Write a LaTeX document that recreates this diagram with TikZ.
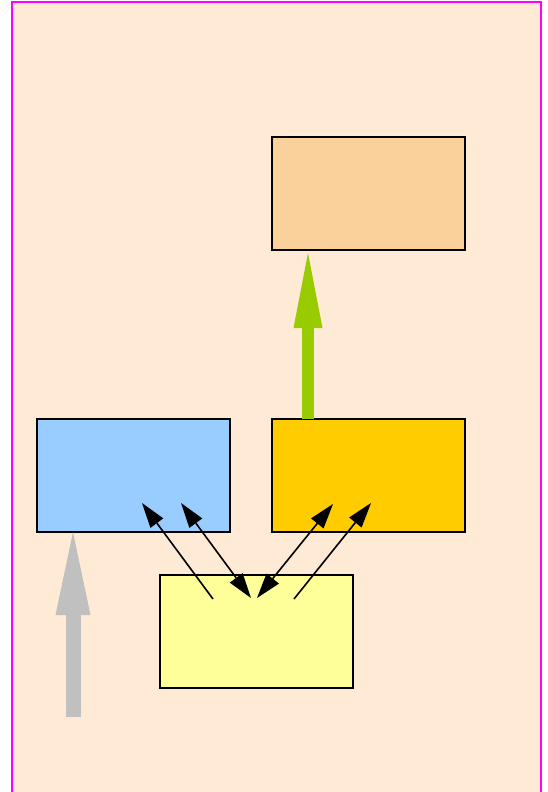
\documentclass[tikz,border=0pt]{standalone}
\usetikzlibrary{arrows.meta}
\definecolor{bgc}{HTML}{FFEAD6}
\definecolor{framec}{HTML}{FF00FF}
\definecolor{orangebox}{HTML}{FAD19A}
\definecolor{bluebox}{HTML}{99CCFF}
\definecolor{goldbox}{HTML}{FFCC00}
\definecolor{yellowbox}{HTML}{FFFF99}
\definecolor{grayarr}{HTML}{C0C0C0}
\definecolor{greenarr}{HTML}{99CC00}
\begin{document}
\begin{tikzpicture}[x=1pt,y=1pt,
  box/.style={draw=black,line width=1.4pt,minimum width=193pt,minimum height=113pt,inner sep=0pt,outer sep=0pt},
  blk/.style={line width=1.6pt,black},
  bt/.style={}]
\useasboundingbox (0,0) rectangle (547,-792);
\fill[bgc] (12,-2) rectangle (541,-800);
\draw[framec,line width=1.8pt] (12,-800) -- (12,-2) -- (541,-2) -- (541,-800);
\node[box,fill=orangebox] (top) at (368.5,-193.5) {};
\node[box,fill=bluebox] (blue) at (133.5,-475.5) {};
\node[box,fill=goldbox] (gold) at (368.5,-475.5) {};
\node[box,fill=yellowbox] (yel) at (256.5,-631.5) {};
% gray arrow
\coordinate (gs) at (73,-717);
\coordinate (ge) at (73,-532);
\draw[grayarr,line width=15pt,-{Triangle[length=83pt,width=35pt,line width=0pt]}] (gs) -- (ge);
% green arrow
\coordinate (gr1) at (308,-419);
\coordinate (gr2) at (308,-253);
\draw[greenarr,line width=12pt,-{Triangle[length=75pt,width=29pt,line width=0pt]}] (gr1) -- (gr2);
% black arrows
\coordinate (a1s) at (213,-599); \coordinate (a1e) at (142,-503);
\coordinate (a2s) at (181,-503); \coordinate (a2e) at (251,-598);
\coordinate (a3s) at (257,-598); \coordinate (a3e) at (333,-504);
\coordinate (a4s) at (294,-599); \coordinate (a4e) at (371,-503);
\draw[blk,-{Triangle[length=25pt,width=16pt,line width=0pt]}] (a1s) -- (a1e);
\draw[blk,{Triangle[length=25pt,width=16pt,line width=0pt]}-{Triangle[length=25pt,width=16pt,line width=0pt]}] (a2s) -- (a2e);
\draw[blk,{Triangle[length=25pt,width=16pt,line width=0pt]}-{Triangle[length=25pt,width=16pt,line width=0pt]}] (a3s) -- (a3e);
\draw[blk,-{Triangle[length=25pt,width=16pt,line width=0pt]}] (a4s) -- (a4e);
\end{tikzpicture}
\end{document}
